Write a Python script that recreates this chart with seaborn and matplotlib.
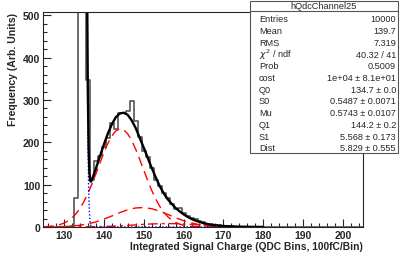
import pandas as pd
import seaborn as sns
import matplotlib.pyplot as plt

# histogram (QDC bins, width 1, centred on integers)
bin_centres = list(range(125, 206))
counts_map = {132: 3, 133: 68, 134: 2100, 135: 3100, 136: 347, 137: 112, 138: 156,
              139: 168, 140: 190, 141: 210, 142: 245, 143: 232, 144: 270, 145: 270,
              146: 275, 147: 298, 148: 250, 149: 212, 150: 180, 151: 165, 152: 140,
              153: 110, 154: 98, 155: 80, 156: 68, 157: 55, 158: 42, 159: 45, 160: 33,
              161: 26, 162: 21, 163: 19, 164: 15, 165: 12, 166: 8, 167: 7, 168: 4,
              169: 5, 170: 3, 171: 2, 172: 2, 173: 1, 174: 1, 175: 1, 177: 1}
counts = [counts_map.get(c, 0) for c in bin_centres]

# total fit (black)
fit_x = [135.5, 135.8, 136.0, 136.2, 136.4, 136.6, 136.8, 137, 138, 139, 140, 141, 142,
         143, 144, 145, 146, 147, 148, 149, 150, 151, 152, 153, 154, 155, 156, 157, 158,
         159, 160, 161, 162, 163, 164, 165, 166, 167, 168, 170, 172, 174, 176, 178, 180]
fit_y = [1480, 623, 333, 188, 129, 110, 107, 111, 137, 166, 194, 220, 242, 259, 268, 270,
         265, 252, 234, 211, 188, 164, 140, 118, 97, 80, 66, 55, 45, 37, 30, 24, 19, 15,
         12, 9, 7, 5, 4, 2.3, 1.35, 0.7, 0.35, 0.2, 0.1]

# pedestal component (blue dotted), drawn over the fit range
ped_x = [135.5, 135.8, 136.0, 136.2, 136.4, 136.6, 136.8, 137.2, 180]
ped_y = [1413, 548, 247, 97, 34, 10, 2.7, 0, 0]

# 1 p.e. component (red dashed)
pe1_x = list(range(125, 167)) + [168, 172, 180]
pe1_y = [0.6, 1.1, 2.0, 3.4, 5.6, 9.0, 14.0, 21.1, 30.7, 43.4, 59.3, 78.5, 100.6, 124.8,
         150.0, 174.6, 196.7, 214.6, 226.7, 231.9, 229.6, 220.2, 204.4, 183.8, 160.0,
         134.9, 110.1, 87.0, 66.6, 49.3, 35.4, 24.6, 16.6, 10.8, 6.8, 4.1, 2.5, 1.4, 0.8,
         0.4, 0.2, 0.1, 0.05, 0, 0]

# 2 p.e. component
pe2_x = [125, 128, 130, 132, 134, 136, 138, 140, 142, 144, 146, 148, 150, 152, 154, 156,
         158, 160, 162, 164, 166, 168, 170, 172, 174, 180]
pe2_y = [0.1, 0.4, 0.95, 2.0, 4.0, 7.2, 11.9, 18.3, 25.9, 33.8, 40.6, 44.9, 45.9, 43.2,
         37.4, 29.9, 22.0, 14.9, 9.4, 5.4, 2.9, 1.4, 0.6, 0.25, 0.1, 0]

# 3 p.e. component
pe3_x = [125, 132, 136, 138, 140, 142, 144, 146, 148, 150, 152, 154, 156, 158, 160, 162,
         164, 166, 168, 170, 172, 174, 176, 178, 180]
pe3_y = [0, 0.05, 0.35, 0.6, 1.1, 1.7, 2.6, 3.8, 4.9, 6.2, 7.1, 7.8, 8.0, 7.8, 7.1, 6.1,
         4.9, 3.8, 2.6, 1.7, 1.1, 0.6, 0.35, 0.2, 0.1]

stats_title = "hQdcChannel25"
stats_names = ["Entries", "Mean", "RMS", r"$\chi^2$ / ndf", "Prob", "cost", "Q0", "S0",
               "Mu", "Q1", "S1", "Dist"]
stats_values = ["10000", "139.7", "7.319", "40.32 / 41", "0.5009", "1e+04 \u00b1 8.1e+01",
                "134.7 \u00b1 0.0", "0.5487 \u00b1 0.0071", "0.5743 \u00b1 0.0107",
                "144.2 \u00b1 0.2", "5.568 \u00b1 0.173", "5.829 \u00b1 0.555"]

sns.set_style("ticks")
plt.rcParams['font.family'] = ['Liberation Sans', 'DejaVu Sans']

fig = plt.figure(figsize=(3.99, 2.55), dpi=100)
ax = fig.add_axes([0.108, 0.106, 0.802, 0.843])

df = pd.DataFrame({"x": bin_centres, "w": counts})
edges = [c - 0.5 for c in bin_centres] + [bin_centres[-1] + 0.5]
sns.histplot(data=df, x="x", weights="w", bins=edges, element="step", fill=False,
             color="#555555", linewidth=1.2, ax=ax)

sns.lineplot(x=pe1_x, y=pe1_y, ax=ax, color="red", linewidth=1.0, linestyle=(0, (7, 4)),
             estimator=None, sort=False)
sns.lineplot(x=pe2_x, y=pe2_y, ax=ax, color="red", linewidth=1.0, linestyle=(0, (7, 4)),
             estimator=None, sort=False)
sns.lineplot(x=pe3_x, y=pe3_y, ax=ax, color="red", linewidth=1.0, linestyle=(0, (7, 3, 2, 3)),
             estimator=None, sort=False)
sns.lineplot(x=ped_x, y=ped_y, ax=ax, color="blue", linewidth=1.0, linestyle=(0, (1, 1.5)),
             estimator=None, sort=False)
sns.lineplot(x=fit_x, y=fit_y, ax=ax, color="black", linewidth=1.7,
             estimator=None, sort=False)

ax.set_xlim(124.8, 205)
ax.set_ylim(0, 508)
ax.set_xticks(range(130, 201, 10))
ax.set_xticks(range(126, 205, 2), minor=True)
ax.set_yticks(range(0, 501, 100))
ax.set_yticks(range(0, 501, 20), minor=True)
ax.tick_params(which="both", direction="in", top=False, right=False,
               labelsize=7.5, pad=2)
ax.tick_params(which="major", length=6, width=0.8)
ax.tick_params(which="minor", length=3, width=0.8)
for lab in ax.get_xticklabels() + ax.get_yticklabels():
    lab.set_fontweight("bold")
for s in ax.spines.values():
    s.set_linewidth(0.8)
    s.set_visible(True)

ax.set_xlabel("Integrated Signal Charge (QDC Bins, 100fC/Bin)", fontsize=7.4,
              fontweight="bold", loc="right", labelpad=1)
ax.set_ylabel("Frequency (Arb. Units)", fontsize=7.6, fontweight="bold", loc="top",
              labelpad=4)

# stats box (figure coordinates in pixels)
W, H = 399.0, 255.0
box_l, box_r, box_t, box_b = 250, 398, 2, 154
fig.patches.append(plt.Rectangle((box_l / W, 1 - box_b / H), (box_r - box_l) / W,
                                 (box_b - box_t) / H, transform=fig.transFigure,
                                 facecolor="white", edgecolor="#555555", linewidth=0.8,
                                 zorder=5))
fig.add_artist(plt.Line2D([box_l / W, box_r / W], [1 - 12 / H, 1 - 12 / H],
                          transform=fig.transFigure, color="#555555", linewidth=0.8,
                          zorder=6))
fig.text((box_l + box_r) / 2 / W, 1 - 6.5 / H, stats_title, ha="center", va="center",
         fontsize=6.6, zorder=7)
for i, (n, v) in enumerate(zip(stats_names, stats_values)):
    yy = 1 - (20 + i * 11.7) / H
    fig.text(259 / W, yy, n, ha="left", va="center", fontsize=6.6, zorder=7)
    fig.text(396 / W, yy, v, ha="right", va="center", fontsize=6.6, zorder=7)

fig.savefig("out.png", dpi=100)
